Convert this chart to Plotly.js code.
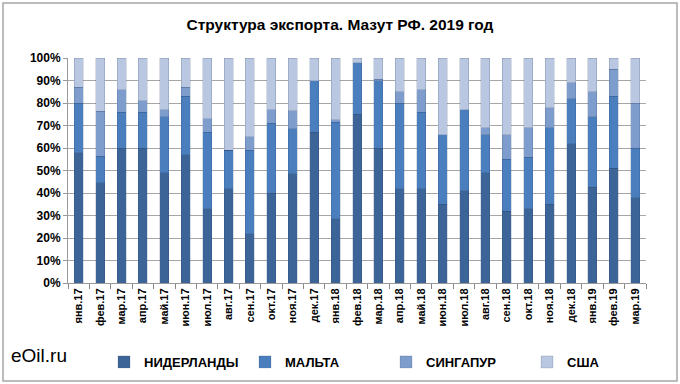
<!DOCTYPE html>
<html><head><meta charset="utf-8">
<script src="https://cdn.plot.ly/plotly-3.0.1.min.js"></script>
<style>body{margin:0;background:#fff}#c{width:680px;height:384px}</style>
</head><body><div id="c"></div>
<script>
const months = ["янв.17","фев.17","мар.17","апр.17","май.17","июн.17","июл.17","авг.17","сен.17","окт.17","ноя.17","дек.17",
"янв.18","фев.18","мар.18","апр.18","май.18","июн.18","июл.18","авг.18","сен.18","окт.18","ноя.18","дек.18",
"янв.19","фев.19","мар.19"];
const netherlands = [58,45,60,60,49,57,33,42,22,40,48.5,67,28.5,75,60,42,42,35,41,49,32,33,35,62,42.5,51,38];
const malta       = [22,12,16,16,25,26,34,17,37,31,20,23,43,23,30,38,34,31,36,17,23,23,34,20,31.5,32,22];
const singapore   = [7,20,10,5,3,4,6,0,6,6,8,0,1,0,0.5,5,10,0,0,3,11,13,9,7,11,12,20];
const usa         = [13,24,14,19,23,13,27,41,35,23,23.5,10,27.5,2,9.5,15,14,34,23,31,34,31,22,11,15,5,20];
const names  = ["НИДЕРЛАНДЫ","МАЛЬТА","СИНГАПУР","США"];
const colors = ["#3d6496","#4a7ebd","#7e9dcc","#b9c7e1"];
const series = [netherlands, malta, singapore, usa];

const sans = '"Liberation Sans", Arial, sans-serif';
const traces = series.map((v,i)=>({
  type:'bar', name:names[i], x:months, y:v,
  marker:{color:colors[i], line:{color:'rgba(40,60,100,0.35)', width:0.5}},
  hoverinfo:'skip'
}));

const L=68, R=646, T=58, B=283;
const W=R-L, H=B-T;
const px=(x)=>(x-L)/W, py=(y)=>(B-y)/H;

const layout = {
  width:680, height:384,
  margin:{l:L, r:680-R, t:T, b:384-B},
  barmode:'stack', barnorm:'percent', bargap:0.58,
  paper_bgcolor:'#fff', plot_bgcolor:'#fff',
  title:{text:'Структура экспорта. Мазут РФ. 2019 год', x:0.5, xanchor:'center', y:1-25/384, yanchor:'middle',
         font:{family:sans, size:15.5, color:'#000', weight:'bold'}},
  xaxis:{type:'category', tickangle:-90, ticks:'outside', tickson:'boundaries', ticklen:5, tickcolor:'#888',
         showline:true, linecolor:'#999', showgrid:false, automargin:false,
         tickfont:{family:sans, size:11, color:'#000', weight:'bold'}},
  yaxis:{range:[0,100], dtick:10, ticksuffix:'%', showline:true, linecolor:'#999', ticks:'outside', ticklen:4, tickcolor:'#999',
         gridcolor:'#a6a6a6', gridwidth:1, zeroline:false, automargin:false,
         tickfont:{family:sans, size:12, color:'#000', weight:'bold'}},
  showlegend:true,
  legend:{orientation:'h', xref:'container', yref:'container', x:104/680, xanchor:'left', y:1-362/384, yanchor:'middle',
          entrywidth:96, entrywidthmode:'pixels', itemwidth:30,
          font:{family:sans, size:13, color:'#000', weight:'bold'}, traceorder:'normal', itemclick:false},
  annotations:[{text:'eOil.ru', xref:'paper', yref:'paper', x:px(9), xanchor:'left', y:py(355), yanchor:'middle',
                showarrow:false, font:{family:sans, size:19, color:'#000'}}],
  shapes:[{type:'rect', xref:'paper', yref:'paper', x0:px(3), x1:px(677), y0:py(381), y1:py(3),
           line:{color:'#a6a6a6', width:1.5}, layer:'below'}]
};
Plotly.newPlot('c', traces, layout, {staticPlot:true, displayModeBar:false});
</script></body></html>
